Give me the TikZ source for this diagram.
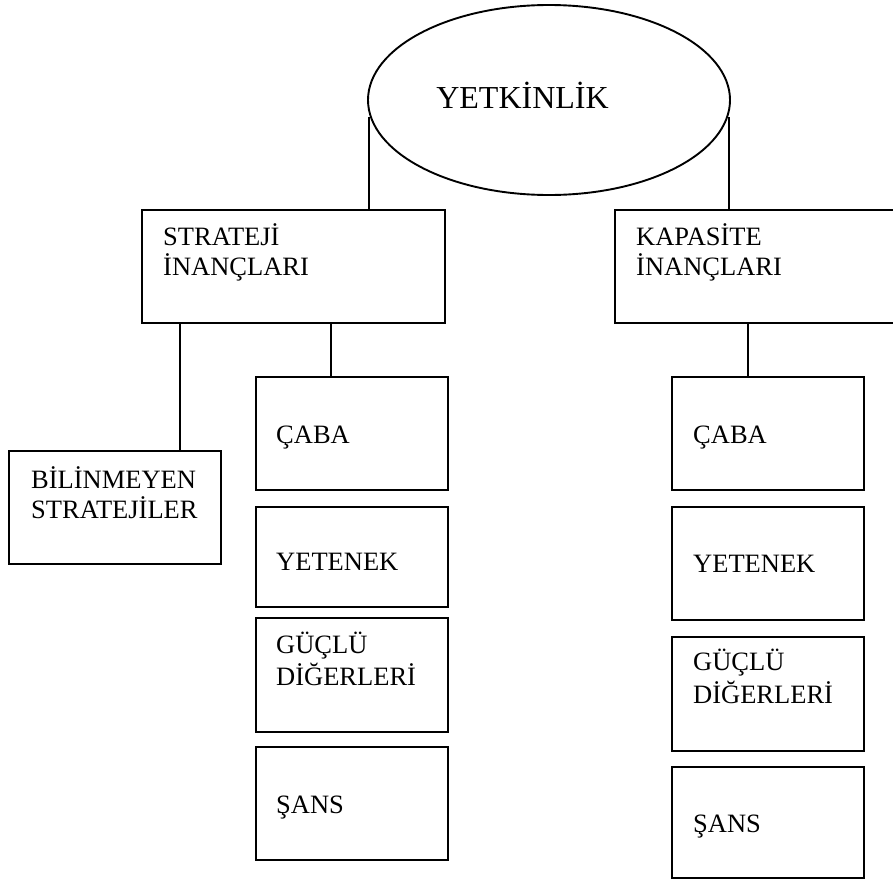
\documentclass[tikz,border=0pt]{standalone}
\usepackage{fontspec}
\setmainfont{Liberation Serif}
\usetikzlibrary{shapes.geometric}
\begin{document}
\begin{tikzpicture}[x=1pt,y=-1pt,
  box/.style={draw,line width=2.2pt,rectangle,inner sep=0pt,outer sep=0pt},
  lbl/.style={anchor=base west,inner sep=0pt,font=\fontsize{26.5}{30}\selectfont},
  conn/.style={line width=2.2pt}]
\useasboundingbox (0,0) rectangle (893,881);
% top ellipse
\node[draw,ellipse,line width=1.9pt,minimum width=362pt,minimum height=190pt,inner sep=0pt,outer sep=0pt] (e) at (549,100) {};
\node[anchor=base,inner sep=0pt,font=\fontsize{32}{38}\selectfont] (et) at (522.5,108) {YETKİNLİK};
% second level
\node[box,minimum width=303pt,minimum height=113pt] (strat) at (293.5,266.5) {};
\node[box,minimum width=290pt,minimum height=113pt] (kap) at (760,266.5) {};
% left branch
\node[box,minimum width=212pt,minimum height=113pt] (bil) at (115,507.5) {};
\node[box,minimum width=192pt,minimum height=113pt] (lcaba) at (352,433.5) {};
\node[box,minimum width=192pt,minimum height=100pt] (lyet) at (352,557) {};
\node[box,minimum width=192pt,minimum height=114pt] (lguc) at (352,675) {};
\node[box,minimum width=192pt,minimum height=113pt] (lsans) at (352,803.5) {};
% right branch
\node[box,minimum width=192pt,minimum height=113pt] (rcaba) at (768,433.5) {};
\node[box,minimum width=192pt,minimum height=113pt] (ryet) at (768,563.5) {};
\node[box,minimum width=192pt,minimum height=114pt] (rguc) at (768,694) {};
\node[box,minimum width=192pt,minimum height=111pt] (rsans) at (768,822.5) {};
% labels
\node[lbl] (t1a) at (163,245) {STRATEJİ};
\node[lbl] (t1b) at (163,275) {İNANÇLARI};
\node[lbl] (t2a) at (636,245) {KAPASİTE};
\node[lbl] (t2b) at (636,275) {İNANÇLARI};
\node[lbl] (t3a) at (31,488) {BİLİNMEYEN};
\node[lbl] (t3b) at (31,518) {STRATEJİLER};
\node[lbl] (t4) at (276,443) {ÇABA};
\node[lbl] (t5) at (276,570) {YETENEK};
\node[lbl] (t6a) at (276,653) {GÜÇLÜ};
\node[lbl] (t6b) at (276,685) {DİĞERLERİ};
\node[lbl] (t7) at (276,813) {ŞANS};
\node[lbl] (t8) at (693,443) {ÇABA};
\node[lbl] (t9) at (693,572) {YETENEK};
\node[lbl] (t10a) at (693,670) {GÜÇLÜ};
\node[lbl] (t10b) at (693,703) {DİĞERLERİ};
\node[lbl] (t11) at (693,832) {ŞANS};
% connectors
\coordinate (el) at (369,117);
\coordinate (er) at (729,117);
\coordinate (xb) at (180,0);
\coordinate (xc) at (331,0);
\coordinate (xk) at (748,0);
\draw[conn] (el) -- (el |- strat.north);
\draw[conn] (er) -- (er |- kap.north);
\draw[conn] (xb |- strat.south) -- (xb |- bil.north);
\draw[conn] (xc |- strat.south) -- (xc |- lcaba.north);
\draw[conn] (xk |- kap.south) -- (xk |- rcaba.north);
\end{tikzpicture}
\end{document}
